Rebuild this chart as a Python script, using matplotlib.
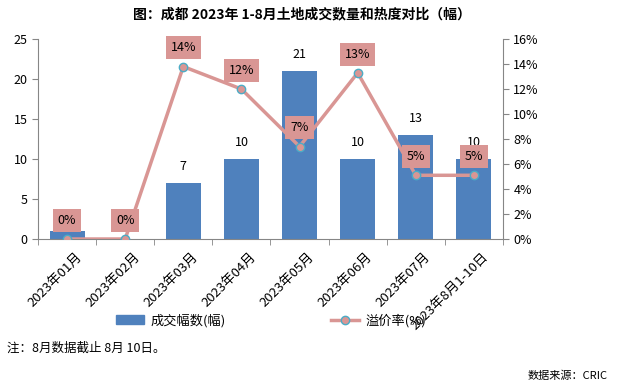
import matplotlib
matplotlib.use("Agg")
import matplotlib.pyplot as plt
import matplotlib.transforms as mtransforms
from matplotlib.lines import Line2D
from matplotlib.patches import Patch
from matplotlib.ticker import FuncFormatter, FixedLocator

plt.rcParams['font.family'] = ['Noto Sans CJK SC', 'DejaVu Sans']

categories = ["2023年01月", "2023年02月", "2023年03月", "2023年04月",
              "2023年05月", "2023年06月", "2023年07月", "2023年8月1-10日"]
deals = [1, 0, 7, 10, 21, 10, 13, 10]
premium = [0.0, 0.0, 13.8, 12.0, 7.4, 13.3, 5.1, 5.1]
premium_labels = ["0%", "0%", "14%", "12%", "7%", "13%", "5%", "5%"]

bar_color = "#4F81BD"
line_color = "#D99694"
box_color = "#D99694"
axis_color = "#868686"

fig = plt.figure(figsize=(6.17, 3.87), dpi=100)
ax = fig.add_axes([0.0616, 0.3824, 0.7536, 0.5166])
ax2 = ax.twinx()

x = list(range(len(categories)))
ax.bar(x, deals, width=0.6, color=bar_color, zorder=2)
ax.set_xlim(-0.5, len(categories) - 0.5)
ax.set_ylim(0, 25)
ax.set_yticks([0, 5, 10, 15, 20, 25])

for xi, v in zip(x, deals):
    if v > 1:
        ax.text(xi, v + 1.2, str(v), ha='center', va='bottom', fontsize=9, color='black')

ax2.plot(x, premium, color=line_color, lw=2.5, marker='o', markersize=6,
         markerfacecolor=line_color, markeredgecolor="#4BACC6", markeredgewidth=1, zorder=3)
ax2.set_ylim(0, 16)
ax2.set_yticks(range(0, 17, 2))
ax2.yaxis.set_major_formatter(FuncFormatter(lambda v, p: f"{int(v)}%"))

for xi, v, lab in zip(x, premium, premium_labels):
    ax2.annotate(lab, (xi, v), xytext=(0, 13.5), textcoords='offset points',
                 ha='center', va='center', fontsize=9, color='black',
                 bbox=dict(boxstyle='square,pad=0.4', fc=box_color, ec='none'), zorder=5)

for a in (ax, ax2):
    for s in a.spines.values():
        s.set_visible(False)
ax.spines['left'].set_visible(True)
ax.spines['left'].set_color(axis_color)
ax.spines['bottom'].set_visible(True)
ax.spines['bottom'].set_color(axis_color)
ax2.spines['right'].set_visible(True)
ax2.spines['right'].set_color(axis_color)

ax.tick_params(axis='y', colors=axis_color, labelcolor='black', labelsize=9, length=4, direction='out')
ax2.tick_params(axis='y', colors=axis_color, labelcolor='black', labelsize=9, length=4, direction='out')

ax.set_xticks(x)
ax.set_xticklabels(categories, rotation=45, ha='right', va='top', rotation_mode='anchor', fontsize=9.5)
ax.tick_params(axis='x', which='major', length=0, pad=8)
offset = mtransforms.ScaledTranslation(8 / 100, 0, fig.dpi_scale_trans)
for lab in ax.get_xticklabels():
    lab.set_transform(lab.get_transform() + offset)
ax.xaxis.set_minor_locator(FixedLocator([i - 0.5 for i in range(len(categories) + 1)]))
ax.tick_params(axis='x', which='minor', length=4, color=axis_color, direction='out')

fig.text(0.49, 0.963, "图：成都 2023年 1-8月土地成交数量和热度对比（幅）", ha='center', va='center',
         fontsize=10, fontweight='bold')

handles = [Patch(color=bar_color, label="成交幅数(幅)"),
           Line2D([0], [0], color=line_color, lw=2.5, marker='o', markersize=6,
                  markerfacecolor=line_color, markeredgecolor="#4BACC6", label="溢价率(%)")]
fig.legend(handles=handles, loc='center', bbox_to_anchor=(0.44, 0.172), ncol=2,
           frameon=False, fontsize=9.5, handlelength=2.1, columnspacing=8.0, handletextpad=0.5)

fig.text(0.012, 0.1, "注：8月数据截止 8月 10日。", ha='left', va='center', fontsize=9)
fig.text(0.985, 0.028, "数据来源：CRIC", ha='right', va='center', fontsize=8)

fig.savefig("out.png", dpi=100)
